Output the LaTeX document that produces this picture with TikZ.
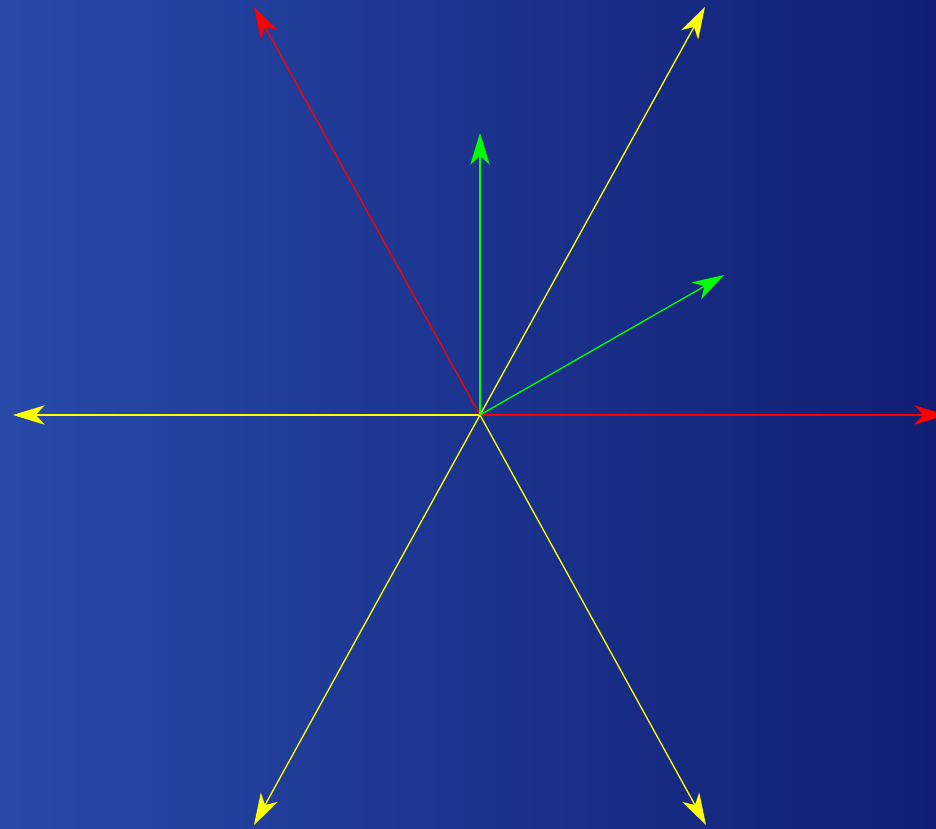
\documentclass[tikz,border=0pt]{standalone}
\usetikzlibrary{arrows.meta}
\definecolor{bgleft}{RGB}{39,74,170}
\definecolor{bgright}{RGB}{17,30,115}
\definecolor{vred}{RGB}{255,0,0}
\definecolor{vyellow}{RGB}{255,255,0}
\definecolor{vgreen}{RGB}{0,255,0}
\tikzset{
  vec/.style={line width=0.75pt,-{Stealth[length=18pt,width=11pt,inset=5pt]}}
}
\begin{document}
\begin{tikzpicture}[x=0.02cm,y=-0.02cm]
% Background
\shade[left color=bgleft,right color=bgright] (0,0) rectangle (936,828);
\useasboundingbox (0,0) rectangle (936,828);
\begin{scope}
  \clip (0,0) rectangle (936,828);
  % Origin and vector ends
  \coordinate (o) at (480,415);
  \coordinate (e) at (946,415);
  \coordinate (w) at (13,415);
  \coordinate (nw) at (254,7);
  \coordinate (ne) at (705,7);
  \coordinate (sw) at (254,825);
  \coordinate (se) at (706,825);
  \coordinate (n) at (480,133);
  \coordinate (d) at (724,275);
  % Long vectors
  \draw[vec,vred] (o) -- (e);
  \draw[vec,vred] (o) -- (nw);
  \draw[vec,vyellow] (o) -- (w);
  \draw[vec,vyellow] (o) -- (ne);
  \draw[vec,vyellow] (o) -- (sw);
  \draw[vec,vyellow] (o) -- (se);
  % Short vectors
  \draw[vec,vgreen] (o) -- (n);
  \draw[vec,vgreen] (o) -- (d);
\end{scope}
\end{tikzpicture}
\end{document}
